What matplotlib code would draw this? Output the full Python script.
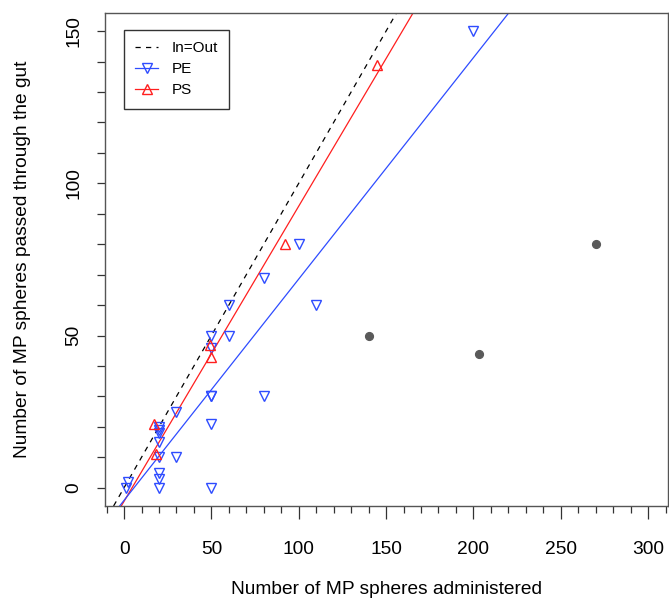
import matplotlib
matplotlib.use("Agg")
import matplotlib.pyplot as plt
from matplotlib.ticker import MultipleLocator
from matplotlib.lines import Line2D

plt.rcParams['font.family'] = ['Liberation Sans', 'DejaVu Sans']

# PE (polyethylene) spheres
pe_x = [1, 2, 20, 20, 20, 20, 20, 20, 20, 20, 30, 30, 50, 50, 50, 50, 50, 50, 60, 60, 80, 80, 100, 110, 200]
pe_y = [0, 2, 0, 3, 5, 10, 15, 18, 19, 20, 10, 25, 0, 21, 30, 30, 46, 50, 50, 60, 30, 69, 80, 60, 150]

# PS (polystyrene) spheres
ps_x = [17, 18, 49, 50, 92, 145]
ps_y = [21, 11, 47, 43, 80, 139]

# excluded points (grey)
ex_x = [140, 203, 270]
ex_y = [50, 44, 80]

# fitted lines (intercept, slope)
pe_fit = (-4.14, 0.727)
ps_fit = (-4.45, 0.9695)

blue = '#2e4cff'
red = '#ff1f1f'

fig = plt.figure(figsize=(6.69, 6.0), dpi=100)
ax = fig.add_axes([104.5/669, 1-506/600, (668-104.5)/669, (506-12.5)/600])

ax.set_xlim(-11.2, 311.4)
ax.set_ylim(-6.0, 156.1)

# In=Out line
ax.axline((0, 0), slope=1, color='black', lw=0.9, linestyle=(0, (4.2, 4.2)), zorder=2)
ax.axline((0, ps_fit[0]), slope=ps_fit[1], color=red, lw=0.9, zorder=2)
ax.axline((0, pe_fit[0]), slope=pe_fit[1], color=blue, lw=0.9, zorder=2)

ax.plot(pe_x, pe_y, linestyle='none', marker='v', markersize=7.2, markerfacecolor='none',
        markeredgecolor=blue, markeredgewidth=1.0, zorder=3)
ax.plot(ps_x, ps_y, linestyle='none', marker='^', markersize=7.2, markerfacecolor='none',
        markeredgecolor=red, markeredgewidth=1.0, zorder=3)
ax.plot(ex_x, ex_y, linestyle='none', marker='o', markersize=5.6, color='#5a5a5a', zorder=3)

ax.xaxis.set_major_locator(MultipleLocator(50))
ax.xaxis.set_minor_locator(MultipleLocator(10))
ax.yaxis.set_major_locator(MultipleLocator(50))
ax.yaxis.set_minor_locator(MultipleLocator(10))

for s in ax.spines.values():
    s.set_color('#555555')
    s.set_linewidth(1.0)

ax.tick_params(axis='x', which='major', length=9, width=0.9, color='#333333', labelsize=13.8, pad=16)
ax.tick_params(axis='x', which='minor', length=5, width=0.9, color='#333333')
ax.tick_params(axis='y', which='major', length=6, width=0.9, color='#333333', labelsize=13.8, pad=10)
ax.tick_params(axis='y', which='minor', length=6, width=0.9, color='#333333')
for lab in ax.get_yticklabels():
    lab.set_rotation(90)
    lab.set_va('center')

ax.set_xlabel('Number of MP spheres administered', fontsize=13.8, va='center')
ax.xaxis.set_label_coords(0.5, -0.170)
ax.set_ylabel('Number of MP spheres passed through the gut', fontsize=13.8, va='center')
ax.yaxis.set_label_coords(-0.1464, 0.5)

handles = [
    Line2D([], [], color='black', lw=0.9, linestyle=(0, (4.2, 4.2))),
    Line2D([], [], color=blue, lw=0.9, marker='v', markersize=7.2, markerfacecolor='none', markeredgecolor=blue),
    Line2D([], [], color=red, lw=0.9, marker='^', markersize=7.2, markerfacecolor='none', markeredgecolor=red),
]
leg = ax.legend(handles, ['In=Out', 'PE', 'PS'], loc='upper left',
                bbox_to_anchor=(0.0346, 0.9645), borderaxespad=0, fontsize=11,
                frameon=True, fancybox=False, edgecolor='#333333', framealpha=1,
                handlelength=1.5, handletextpad=0.85, labelspacing=0.45, borderpad=0.75)
leg.get_frame().set_linewidth(1.0)

fig.savefig('out.png', dpi=100)
